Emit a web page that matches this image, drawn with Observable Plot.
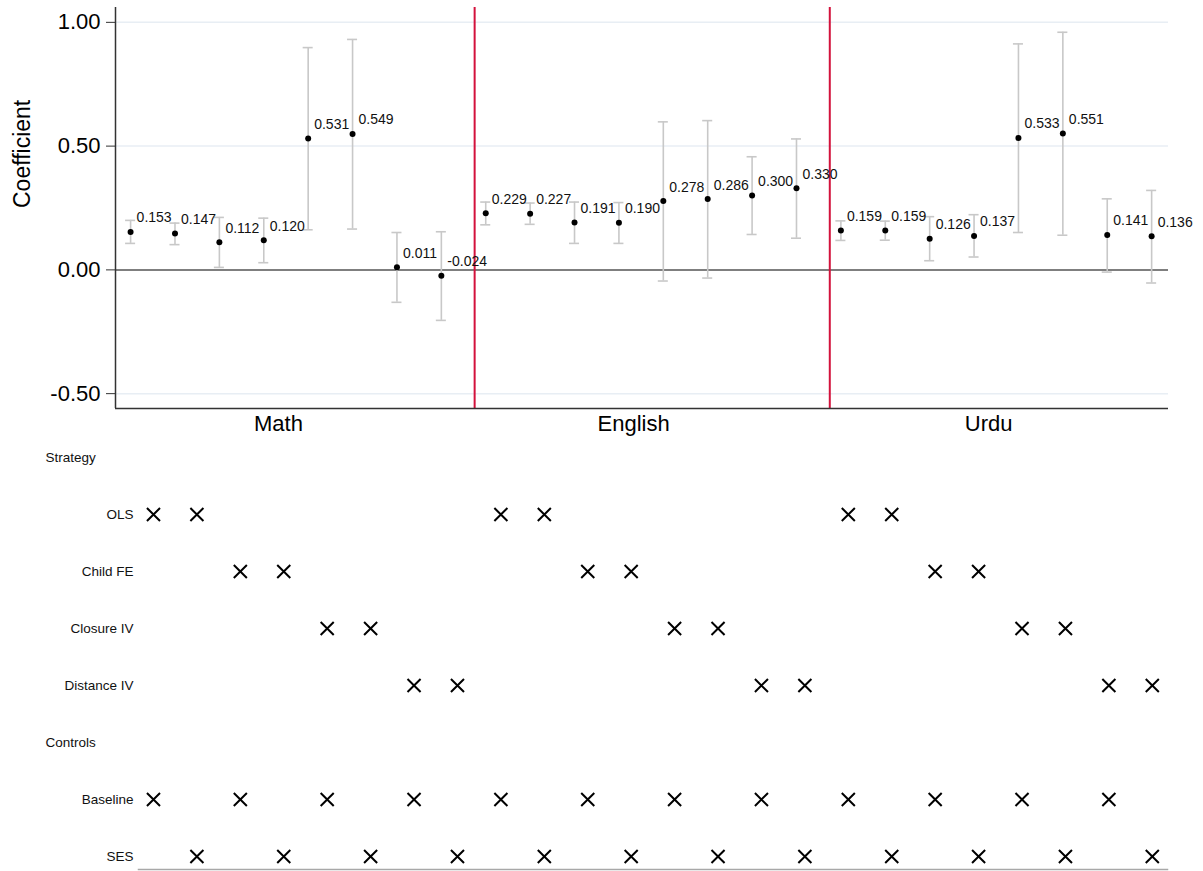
<!DOCTYPE html>
<html>
<head>
<meta charset="utf-8">
<script src="https://cdn.jsdelivr.net/npm/d3@7"></script>
<script src="https://cdn.jsdelivr.net/npm/@observablehq/plot@0.6"></script>
<style>
  html, body { margin: 0; padding: 0; background: white; }
  #chart > svg, #chart > figure { display: block; margin: 0; }
</style>
</head>
<body>
<div id="chart"></div>
<script>
// ---- data ----
const subjects = ["Math", "English", "Urdu"];
const colsPerSubject = 8;
const coef = [0.153, 0.147, 0.112, 0.120, 0.531, 0.549, 0.011, -0.024,
              0.229, 0.227, 0.191, 0.190, 0.278, 0.286, 0.300, 0.330,
              0.159, 0.159, 0.126, 0.137, 0.533, 0.551, 0.141, 0.136];
const ciLow = [0.107, 0.102, 0.010, 0.029, 0.162, 0.165, -0.131, -0.204,
               0.182, 0.184, 0.107, 0.107, -0.045, -0.033, 0.143, 0.128,
               0.119, 0.120, 0.037, 0.052, 0.151, 0.140, -0.009, -0.053];
const ciHigh = [0.200, 0.189, 0.212, 0.209, 0.898, 0.931, 0.151, 0.154,
                0.274, 0.270, 0.274, 0.272, 0.598, 0.603, 0.457, 0.529,
                0.198, 0.197, 0.215, 0.223, 0.913, 0.960, 0.287, 0.321];
const strategies = ["OLS", "Child FE", "Closure IV", "Distance IV"];
const controls = ["Baseline", "SES"];
const strategyByCol = ["OLS", "OLS", "Child FE", "Child FE", "Closure IV", "Closure IV", "Distance IV", "Distance IV",
                       "OLS", "OLS", "Child FE", "Child FE", "Closure IV", "Closure IV", "Distance IV", "Distance IV",
                       "OLS", "OLS", "Child FE", "Child FE", "Closure IV", "Closure IV", "Distance IV", "Distance IV"];
const controlsByCol = ["Baseline", "SES", "Baseline", "SES", "Baseline", "SES", "Baseline", "SES",
                       "Baseline", "SES", "Baseline", "SES", "Baseline", "SES", "Baseline", "SES",
                       "Baseline", "SES", "Baseline", "SES", "Baseline", "SES", "Baseline", "SES"];
const yTicks = [-0.5, 0, 0.5, 1];
const yLabel = "Coefficient";
const headers = ["Strategy", "Controls"];

// ---- derived tables ----
const table = coef.map((c, i) => ({col: i + 1, coef: c, lo: ciLow[i], hi: ciHigh[i],
  strategy: strategyByCol[i], control: controlsByCol[i]}));
const centers = subjects.map((s, k) => k * colsPerSubject + (colsPerSubject + 1) / 2 - 0.17);
const centerName = new Map(centers.map((c, k) => [c, subjects[k]]));
const dividers = subjects.slice(1).map((s, k) => (k + 1) * colsPerSubject + 0.75);
const rows = [headers[0], ...strategies, headers[1], ...controls];

const font = "'Liberation Sans', Arial, Helvetica, sans-serif";
const capHalf = 0.113;

const coefPlot = Plot.plot({
  width: 1203, height: 440,
  marginTop: 7, marginBottom: 32, marginLeft: 115, marginRight: 35,
  style: {fontFamily: font, fontSize: "13px", background: "white", color: "black", overflow: "visible"},
  x: {domain: [0.66, 24.38]},
  y: {domain: [-0.56, 1.06]},
  marks: [
    Plot.ruleY(yTicks.filter(d => d !== 0), {stroke: "#e8eef4", strokeWidth: 1.5}),
    Plot.ruleY([0], {stroke: "#555555", strokeWidth: 1.5}),
    Plot.ruleX(dividers, {stroke: "#d3123c", strokeWidth: 2}),
    Plot.ruleX(table, {x: "col", y1: "lo", y2: "hi", stroke: "#c8c8c8", strokeWidth: 1.6}),
    Plot.ruleY(table, {y: "lo", x1: d => d.col - capHalf, x2: d => d.col + capHalf, stroke: "#c8c8c8", strokeWidth: 1.6}),
    Plot.ruleY(table, {y: "hi", x1: d => d.col - capHalf, x2: d => d.col + capHalf, stroke: "#c8c8c8", strokeWidth: 1.6}),
    Plot.dot(table, {x: "col", y: "coef", r: 3, fill: "black"}),
    Plot.text(table, {x: "col", y: "coef", text: d => d.coef.toFixed(3), dx: 6, dy: -14,
      textAnchor: "start", fontSize: 14, fill: "#111"}),
    Plot.axisY({ticks: yTicks, tickFormat: d => d.toFixed(2), tickSize: 9, tickPadding: 6,
      fontSize: 22, label: null, stroke: "#333"}),
    Plot.axisX({ticks: centers, tickFormat: d => centerName.get(d), tickSize: 0, tickPadding: 7,
      fontSize: 22, label: null}),
    Plot.ruleX([0.66], {stroke: "#333", strokeWidth: 1.5}),
    Plot.ruleY([-0.56], {stroke: "#333", strokeWidth: 1.5}),
    Plot.text([yLabel], {frameAnchor: "left", rotate: -90, dx: -93, fontSize: 23, fill: "black"})
  ]
});

const indicatorPlot = Plot.plot({
  width: 1203, height: 431,
  marginTop: 3, marginBottom: 2, marginLeft: 138, marginRight: 36,
  style: {fontFamily: font, fontSize: "13px", background: "white", color: "black", overflow: "visible"},
  x: {domain: [0.655, 24.35], axis: null},
  y: {type: "point", domain: rows, padding: 0.209, axis: null},
  marks: [
    Plot.frame({anchor: "bottom", stroke: "#a8a8a8", strokeWidth: 1.5}),
    Plot.dot(table, {x: "col", y: "strategy", symbol: "times", r: 6, stroke: "black", strokeWidth: 2}),
    Plot.dot(table, {x: "col", y: "control", symbol: "times", r: 6, stroke: "black", strokeWidth: 2}),
    Plot.text([...strategies, ...controls], {y: d => d, frameAnchor: "left", textAnchor: "end", dx: -5,
      fontSize: 13.5, fill: "#111"}),
    Plot.text(headers, {y: d => d, frameAnchor: "left", textAnchor: "start", dx: -93,
      fontSize: 13.5, fill: "#111"})
  ]
});

const el = document.getElementById("chart");
el.appendChild(coefPlot);
el.appendChild(indicatorPlot);
</script>
</body>
</html>
